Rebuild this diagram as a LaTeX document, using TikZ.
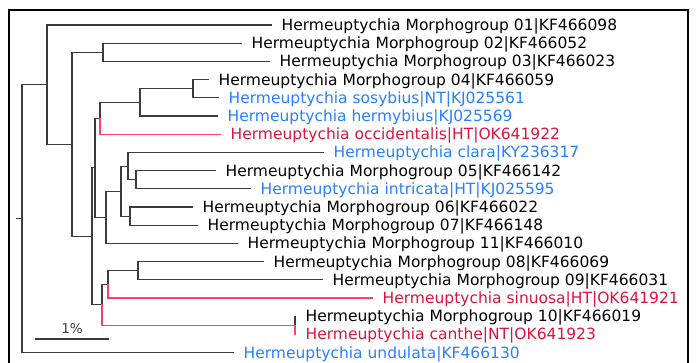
\documentclass[tikz,border=0pt]{standalone}
\usepackage{fontspec}
\setmainfont{DejaVu Sans}
\usepackage{xcolor}
\definecolor{treegray}{RGB}{60,60,60}
\definecolor{treered}{RGB}{255,64,96}
\definecolor{taxred}{RGB}{220,20,60}
\definecolor{taxblue}{RGB}{40,128,255}
\tikzset{
	branch/.style={line width=1.1pt, color=treegray, line cap=rect},
	redbranch/.style={branch, color=treered},
	taxon/.style={anchor=west, inner xsep=10.5pt, inner ysep=0pt, text height=15.07pt, text depth=3.9pt, font=\fontsize{15.5}{18}\selectfont},
	described/.style={taxon, text=taxblue},
	newtaxon/.style={taxon, text=taxred},
}

\begin{document}
\begin{tikzpicture}[x=1pt, y=-1pt]
		\useasboundingbox (0,0) rectangle (697,362);
		\clip (0,0) rectangle (697,362);
		\draw[line width=2pt] (9,10) rectangle (688,372);
		
		% internal nodes
		\coordinate (stub) at (17,218.6);
		\coordinate (root) at (22,218.6);
		\coordinate (n1) at (47,84.65);
		\coordinate (n2) at (72,144.3);
		\coordinate (n3) at (103,52.3);
		\coordinate (n4) at (92,236.3);
		\coordinate (n5) at (95,167.8);
		\coordinate (n6) at (100,118.3);
		\coordinate (n7) at (140,102.35);
		\coordinate (n7a) at (193,88.7);
		\coordinate (n8) at (106,217.25);
		\coordinate (n9) at (121,191.1);
		\coordinate (n9a) at (128,166.05);
		\coordinate (n9b) at (130,216.1);
		\coordinate (n9c) at (136,179.7);
		\coordinate (n10) at (102,304.8);
		\coordinate (n11) at (108,284.35);
		\coordinate (n11a) at (138,270.7);
		\coordinate (n12) at (295,325.3);
		
		% leaves
		\node[taxon] (mg01) at (271,25.0) {Hermeuptychia Morphogroup 01|KF466098};
		\node[taxon] (mg02) at (241,43.2) {Hermeuptychia Morphogroup 02|KF466052};
		\node[taxon] (mg03) at (269,61.4) {Hermeuptychia Morphogroup 03|KF466023};
		\node[taxon] (mg04) at (208,79.6) {Hermeuptychia Morphogroup 04|KF466059};
		\node[described] (sosybius) at (218,97.8) {Hermeuptychia sosybius|NT|KJ025561};
		\node[described] (hermybius) at (217,116.0) {Hermeuptychia hermybius|KJ025569};
		\node[newtaxon] (occidentalis) at (220,134.2) {Hermeuptychia occidentalis|HT|OK641922};
		\node[described] (clara) at (323,152.4) {Hermeuptychia clara|KY236317};
		\node[taxon] (mg05) at (215,170.6) {Hermeuptychia Morphogroup 05|KF466142};
		\node[described] (intricata) at (250,188.8) {Hermeuptychia intricata|HT|KJ025595};
		\node[taxon] (mg06) at (192,207.0) {Hermeuptychia Morphogroup 06|KF466022};
		\node[taxon] (mg07) at (197,225.2) {Hermeuptychia Morphogroup 07|KF466148};
		\node[taxon] (mg11) at (237,243.4) {Hermeuptychia Morphogroup 11|KF466010};
		\node[taxon] (mg08) at (263,261.6) {Hermeuptychia Morphogroup 08|KF466069};
		\node[taxon] (mg09) at (322,279.8) {Hermeuptychia Morphogroup 09|KF466031};
		\node[newtaxon] (sinuosa) at (372,298.0) {Hermeuptychia sinuosa|HT|OK641921};
		\node[taxon] (mg10) at (295,316.2) {Hermeuptychia Morphogroup 10|KF466019};
		\node[newtaxon] (canthe) at (295,334.4) {Hermeuptychia canthe|NT|OK641923};
		\node[described] (undulata) at (233,352.6) {Hermeuptychia undulata|KF466130};
		
		% branches
		\draw[branch] (stub) -- (root);
		\draw[branch] (root) |- (n1);
		\draw[branch] (root) |- (undulata.west);
		\draw[branch] (n1) |- (mg01.west);
		\draw[branch] (n1) |- (n2);
		\draw[branch] (n2) |- (n3);
		\draw[branch] (n2) |- (n4);
		\draw[branch] (n3) |- (mg02.west);
		\draw[branch] (n3) |- (mg03.west);
		\draw[branch] (n4) |- (n5);
		\draw[branch] (n4) |- (n10);
		\draw[branch] (n5) |- (n6);
		\draw[branch] (n5) |- (n8);
		\draw[branch] (n6) |- (n7);
		\draw[redbranch] (n6) |- (occidentalis.west);
		\draw[branch] (n7) |- (n7a);
		\draw[branch] (n7) |- (hermybius.west);
		\draw[branch] (n7a) |- (mg04.west);
		\draw[branch] (n7a) |- (sosybius.west);
		\draw[branch] (n8) |- (n9);
		\draw[branch] (n8) |- (mg11.west);
		\draw[branch] (n9) |- (n9a);
		\draw[branch] (n9) |- (n9b);
		\draw[branch] (n9a) |- (clara.west);
		\draw[branch] (n9a) |- (n9c);
		\draw[branch] (n9c) |- (mg05.west);
		\draw[branch] (n9c) |- (intricata.west);
		\draw[branch] (n9b) |- (mg06.west);
		\draw[branch] (n9b) |- (mg07.west);
		\draw[branch] (n10) |- (n11);
		\draw[redbranch] (n10) |- (n12);
		\draw[branch] (n11) |- (n11a);
		\draw[redbranch] (n11) |- (sinuosa.west);
		\draw[branch] (n11a) |- (mg08.west);
		\draw[branch] (n11a) |- (mg09.west);
		\draw[branch] (n12) |- (mg10.west);
		\draw[redbranch] (n12) |- (canthe.west);
		
		% scale bar
		\coordinate (barleft) at (35,339);
		\coordinate (barright) at (109,339);
		\draw[branch, line cap=butt] (barleft) -- (barright) node[midway, anchor=base, yshift=6pt, inner sep=0pt, text=treegray, font=\fontsize{13.5}{16}\selectfont] (barlabel) {1\%};
	\end{tikzpicture}
\end{document}
